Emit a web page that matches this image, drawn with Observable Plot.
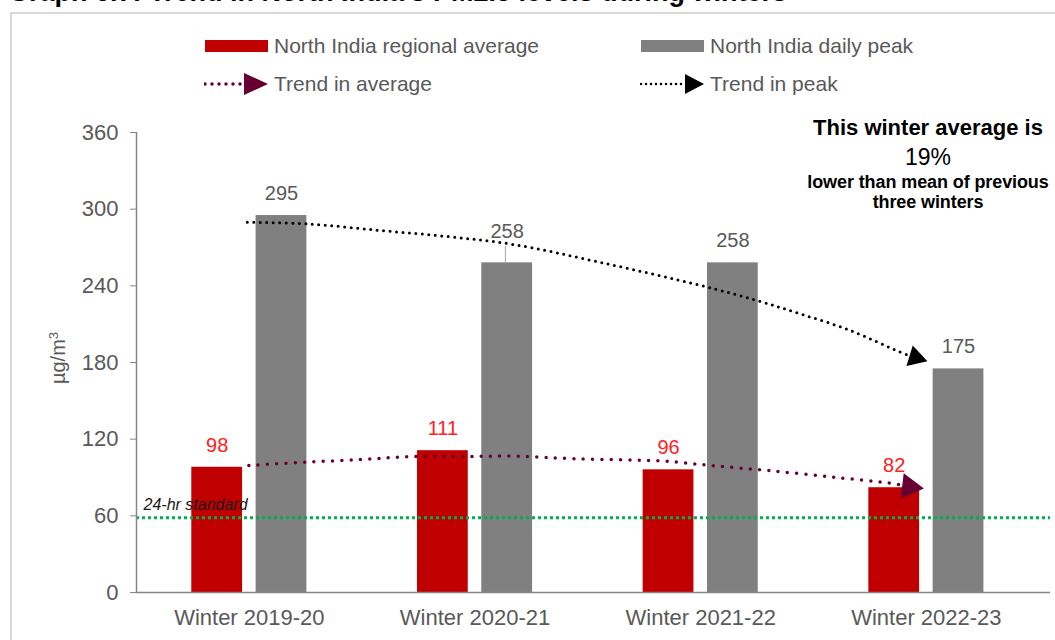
<!DOCTYPE html>
<html>
<head>
<meta charset="utf-8">
<script src="https://cdn.jsdelivr.net/npm/d3@7"></script>
<script src="https://cdn.jsdelivr.net/npm/@observablehq/plot@0.6"></script>
<style>
  html, body { margin: 0; padding: 0; background: #fff; }
  body { width: 1055px; height: 640px; overflow: hidden; position: relative; font-family: 'Liberation Sans', Arial, sans-serif; }
  .abs { position: absolute; white-space: nowrap; }
  #title { left: 8px; top: -23px; font: bold 27px 'Liberation Sans', Arial, sans-serif; color: #000; line-height: 30px; }
  #frame { left: 10px; top: 12px; width: 1100px; height: 700px; border: 2px solid #d9d9d9; box-sizing: border-box; }
  .leg { font-size: 21px; color: #595959; line-height: 24px; }
  .ann { width: 300px; left: 778px; text-align: center; color: #000; }
  #ylab { font-size: 20px; color: #595959; transform: rotate(-90deg); transform-origin: center center; width: 80px; text-align: center; line-height: 24px; }
</style>
</head>
<body>
<div id="title" class="abs">Graph 6.7: Trend in North India's PM2.5 levels during winters</div>
<div id="frame" class="abs"></div>
<div id="legend"></div>
<div id="chart" class="abs" style="left:0;top:110px"></div>
<div id="ylab" class="abs" style="left:18px;top:346px">µg/m<sup style="font-size:13px;vertical-align:7px;line-height:0">3</sup></div>
<div id="annotation"></div>
<script>
// ---- data ----
const categories = ["Winter 2019-20", "Winter 2020-21", "Winter 2021-22", "Winter 2022-23"];
const regionalAverage = [98, 111, 96, 82];
const dailyPeak = [295, 258, 258, 175];
const yTicks = [0, 60, 120, 180, 240, 300, 360];
const standard24hr = 58.5;
const standardLabel = "24-hr standard";
// hand-drawn trend arrows (position in category units, value)
const trendAvgPos = [-0.002, 0.249, 0.500, 0.714, 0.950, 1.172, 1.453, 1.837, 2.043, 2.295, 2.590, 2.856, 2.925];
const trendAvgVal = [99.4, 102.0, 104.1, 106.4, 106.4, 106.7, 104.6, 102.8, 99.4, 95.5, 90.2, 85.1, 82.7];
const trendPeakPos = [-0.009, 0.257, 0.581, 0.877, 1.172, 1.557, 2.0, 2.25, 2.441, 2.663, 2.884, 2.952];
const trendPeakVal = [289.8, 288.5, 283.3, 278.6, 272.3, 258.3, 240.3, 228.5, 218.1, 205.1, 188.1, 183.9];
const legendItems = ["North India regional average", "North India daily peak", "Trend in average", "Trend in peak"];
const annotation = ["This winter average is", "19%", "lower than mean of previous", "three winters"];

// ---- styles ----
const RED = "#c00000", GREY = "#808080", MAROON = "#660033", GREEN = "#00b050", TEXT = "#595959";

const bars = categories.map((c, i) => ({i, c, avg: regionalAverage[i], peak: dailyPeak[i]}));
const avgTrend = trendAvgPos.map((p, k) => ({p, v: trendAvgVal[k]}));
const peakTrend = trendPeakPos.map((p, k) => ({p, v: trendPeakVal[k]}));
const W = 0.225, G = 0.03; // bar layout in category units

const chart = Plot.plot({
  width: 1055, height: 530,
  marginLeft: 136, marginRight: 5, marginTop: 22, marginBottom: 48,
  style: {fontFamily: "'Liberation Sans', Arial, sans-serif", background: "transparent", overflow: "visible"},
  x: {type: "linear", domain: [-0.5, 3.55]},
  y: {domain: [0, 360]},
  marks: [
    Plot.rectY(bars, {x1: d => d.i - G - W, x2: d => d.i - G, y1: 0, y2: "avg", fill: RED}),
    Plot.rectY(bars, {x1: d => d.i + G, x2: d => d.i + G + W, y1: 0, y2: "peak", fill: GREY}),
    Plot.ruleY([standard24hr], {stroke: GREEN, strokeWidth: 3, strokeDasharray: "3 3"}),
    Plot.text([standardLabel], {x: -0.5, y: standard24hr, text: d => d, textAnchor: "start", dx: 7, dy: -13, fontSize: 16, fontStyle: "italic", fill: "#1a1a1a"}),
    Plot.axisY(yTicks, {tickSize: 6, tickPadding: 12, fontSize: 22, fill: TEXT, stroke: "#868686", label: null}),
    Plot.axisX([0, 1, 2, 3], {tickFormat: i => categories[i], tickSize: 0, tickPadding: 17, fontSize: 22, fill: TEXT, label: null}),
    Plot.ruleX([-0.5], {y1: 0, y2: 360, stroke: "#868686", strokeWidth: 1.5}),
    Plot.ruleY([0], {stroke: "#868686", strokeWidth: 1.5}),
    Plot.text(bars, {x: d => d.i - G - W / 2, y: "avg", text: d => String(d.avg), dy: -22, fontSize: 20, fill: "#ff2020"}),
    Plot.text(bars.filter(d => d.i !== 1), {x: d => d.i + G + W / 2, y: "peak", text: d => String(d.peak), dy: -22, fontSize: 20, fill: TEXT}),
    Plot.text(bars.filter(d => d.i === 1), {x: d => d.i + G + W / 2, y: "peak", text: d => String(d.peak), dy: -31, fontSize: 20, fill: TEXT}),
    Plot.ruleX(bars.filter(d => d.i === 1), {x: d => d.i + G + W / 2 - 0.008, y1: "peak", y2: d => d.peak + 12.5, stroke: "#a6a6a6", strokeWidth: 1}),
    Plot.line(peakTrend, {x: "p", y: "v", curve: "catmull-rom", stroke: "#000", strokeWidth: 3, strokeDasharray: "0 6.5", strokeLinecap: "round"}),
    Plot.dot(peakTrend.slice(-1), {x: "p", y: "v", symbol: "triangle", r: 8, rotate: 107, fill: "#000", stroke: "none"}),
    Plot.line(avgTrend, {x: "p", y: "v", curve: "catmull-rom", stroke: MAROON, strokeWidth: 3.5, strokeDasharray: "0 9.3", strokeLinecap: "round"}),
    Plot.dot(avgTrend.slice(-1), {x: "p", y: "v", symbol: "triangle", r: 9.4, rotate: 97, fill: MAROON, stroke: "none"})
  ]
});
document.getElementById("chart").appendChild(chart);

// ---- annotation ----
const annStyles = [
  "top:115px;line-height:26px;font-size:22px;font-weight:bold",
  "top:144px;line-height:26px;font-size:23px",
  "top:171px;line-height:22px;font-size:18px;font-weight:bold;letter-spacing:-0.1px",
  "top:191px;line-height:22px;font-size:18px;font-weight:bold;letter-spacing:-0.1px"
];
const annEl = document.getElementById("annotation");
annotation.forEach((t, k) => {
  const d = document.createElement("div");
  d.className = "abs ann";
  d.style.cssText = annStyles[k];
  d.textContent = t;
  annEl.appendChild(d);
});

// ---- legend ----
const legend = document.getElementById("legend");
function item(x, y, svg, label) {
  const s = document.createElement("div");
  s.className = "abs";
  s.style.left = x + "px"; s.style.top = (y - 12) + "px";
  s.innerHTML = `<svg width="70" height="24" style="position:absolute;left:0;top:0">${svg}</svg>` +
    `<span class="leg abs" style="left:70px;top:0">${label}</span>`;
  legend.appendChild(s);
}
item(204, 46, `<rect x="1" y="6" width="63" height="12" fill="${RED}"/>`, legendItems[0]);
item(640, 46, `<rect x="1" y="6" width="63" height="12" fill="${GREY}"/>`, legendItems[1]);
item(204, 84, `<line x1="1" y1="12" x2="40" y2="12" stroke="${MAROON}" stroke-width="3.5" stroke-dasharray="0 7" stroke-linecap="round"/><path d="M40,1 L64,12 L40,23 Z" fill="${MAROON}"/>`, legendItems[2]);
item(640, 84, `<line x1="1" y1="12" x2="44" y2="12" stroke="#000" stroke-width="2.5" stroke-dasharray="0 5" stroke-linecap="round"/><path d="M45,2 L64,12 L45,22 Z" fill="#000"/>`, legendItems[3]);
</script>
</body>
</html>
